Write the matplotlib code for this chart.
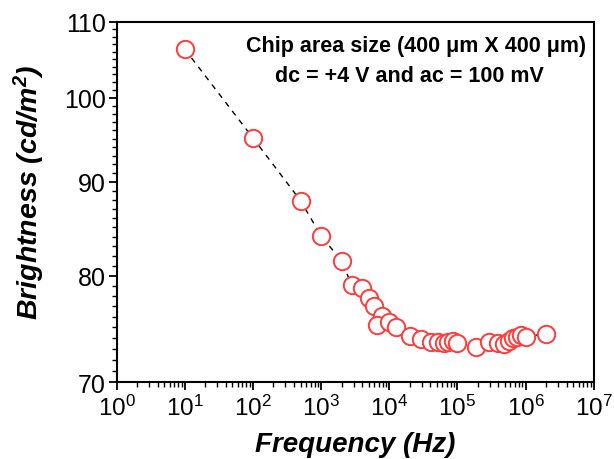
import math
import matplotlib
matplotlib.use("Agg")
import matplotlib.pyplot as plt
from matplotlib.ticker import FixedLocator, MultipleLocator, LogLocator, NullFormatter, FuncFormatter

plt.rcParams['font.family'] = ['Liberation Sans', 'DejaVu Sans']
plt.rcParams['mathtext.fontset'] = 'custom'
plt.rcParams['mathtext.rm'] = 'Liberation Sans'
plt.rcParams['mathtext.it'] = 'Liberation Sans:italic'
plt.rcParams['mathtext.bf'] = 'Liberation Sans:bold:italic'

freq = [10, 100, 500, 1000, 2000, 2800, 4000, 5000, 6000, 7700, 6700, 10000, 12700,
        20000, 29000, 41000, 52000, 63000, 73000, 85000, 98000,
        190000, 295000, 390000, 490000, 580000, 660000, 760000, 870000, 1000000, 2000000]
bright = [106.3, 95.1, 87.9, 84.1, 81.5, 79.1, 78.8, 77.8, 77.0, 76.1, 75.2, 75.5, 75.0,
          74.2, 73.9, 73.6, 73.6, 73.5, 73.6, 73.7, 73.5,
          73.2, 73.6, 73.5, 73.4, 73.7, 74.0, 74.1, 74.3, 74.1, 74.4]

yticks = [70, 80, 90, 100, 110]
xtick_exps = list(range(0, 8))

fig = plt.figure(figsize=(6.14, 4.60), dpi=100)
ax = fig.add_axes([0.190, 0.167, 0.777, 0.783])

ax.plot(freq, bright, linestyle=(0, (4, 4)), color='black', linewidth=1.0, zorder=1)
ax.plot(freq, bright, linestyle='none', marker='o', markersize=12.5,
        markerfacecolor='white', markeredgecolor='#ff3b3b', markeredgewidth=1.4, zorder=2)

ax.set_xscale('log')
ax.set_yscale('log')
ax.set_xlim(1, 1e7)
ax.set_ylim(70, 110)

ax.xaxis.set_major_locator(FixedLocator([10**e for e in xtick_exps]))
ax.xaxis.set_minor_locator(LogLocator(base=10, subs=range(2, 10), numticks=100))
ax.xaxis.set_major_formatter(FuncFormatter(lambda v, p: r'$\mathregular{10^{%d}}$' % round(math.log10(v))))
ax.xaxis.set_minor_formatter(NullFormatter())

ax.yaxis.set_major_locator(FixedLocator(yticks))
ax.yaxis.set_minor_locator(MultipleLocator(1))
ax.yaxis.set_major_formatter(FuncFormatter(lambda v, p: '%d' % v))
ax.yaxis.set_minor_formatter(NullFormatter())

for s in ax.spines.values():
    s.set_linewidth(1.5)
ax.tick_params(which='major', direction='out', length=6, width=1.3, labelsize=18, pad=2)
ax.tick_params(which='minor', direction='out', length=3.5, width=1.0)
ax.tick_params(axis='x', which='major', labelsize=17.5, pad=3)
ax.tick_params(top=False, right=False, which='both')

ax.set_xlabel('Frequency (Hz)', fontsize=20, fontweight='bold', fontstyle='italic', labelpad=8)
ax.set_ylabel(r'Brightness (cd/m$^{\mathbf{2}}$)', fontsize=20.5, fontweight='bold', fontstyle='italic')
ax.yaxis.set_label_coords(-0.145, 0.53)

ax.text(0.985, 0.919, 'Chip area size (400 \u03bcm X 400 \u03bcm)', transform=ax.transAxes,
        ha='right', va='baseline', fontsize=15.5, fontweight='bold')
ax.text(0.613, 0.836, 'dc = +4 V and ac = 100 mV', transform=ax.transAxes,
        ha='center', va='baseline', fontsize=15.5, fontweight='bold')

fig.savefig('out.png', dpi=100)
